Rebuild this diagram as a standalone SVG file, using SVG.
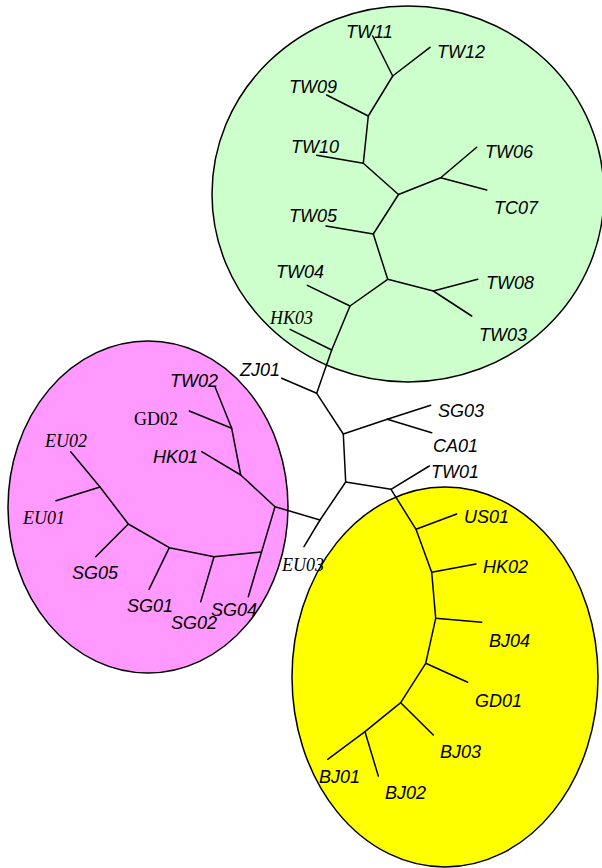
<svg xmlns="http://www.w3.org/2000/svg" width="602" height="868" viewBox="0 0 602 868">
<style>
.cl{stroke:#000;stroke-width:1.5}
.e{fill:none;stroke:#000;stroke-width:1.5;stroke-linecap:round;stroke-linejoin:round}
.s{font-family:"Liberation Sans",Arial,sans-serif;font-style:italic;font-size:18px;fill:#000}
.r{font-family:"Liberation Serif","Times New Roman",serif;font-style:italic;font-size:18px;fill:#000}
.ru{font-family:"Liberation Serif","Times New Roman",serif;font-size:18px;fill:#000}
</style>
<rect width="602" height="868" fill="#fff"/>
<g id="clusters">
<ellipse id="cluster-green" class="cl" cx="408" cy="194" rx="196" ry="188" fill="#CCFFCC"/>
<ellipse id="cluster-pink" class="cl" cx="148" cy="507" rx="140" ry="166" fill="#FF99FF"/>
<ellipse id="cluster-yellow" class="cl" cx="445" cy="677" rx="153" ry="190" fill="#FFFF00"/>
</g>
<g id="connectors">
<path class="e" d="M372.7,36 L392.7,76 L430,47.3"/>
<path class="e" d="M392.7,76 L368.3,116 L326.7,95"/>
<path class="e" d="M368.3,116 L363.3,163.3 L316.7,155.3"/>
<path class="e" d="M363.3,163.3 L398.5,194.5 L440.7,177.7 L476.7,147.3"/>
<path class="e" d="M440.7,177.7 L486.7,190"/>
<path class="e" d="M398.5,194.5 L373.3,234 L326,226"/>
<path class="e" d="M373.3,234 L387.7,279.3 L433.3,291 L477.7,279.3"/>
<path class="e" d="M433.3,291 L471.7,316"/>
<path class="e" d="M387.7,279.3 L350,306 L307.3,285.3"/>
<path class="e" d="M350,306 L331.7,350 L290,329.3"/>
<path class="e" d="M331.7,350 L316.7,393.3 L281.7,378.3"/>
<path class="e" d="M316.7,393.3 L343.3,434 L387.3,419.3 L430.7,405.3"/>
<path class="e" d="M387.3,419.3 L431.7,432.7"/>
<path class="e" d="M343.3,434 L345.7,482 L391,489.3 L429.3,466"/>
<path class="e" d="M391,489.3 L416,529.3 L456.7,514"/>
<path class="e" d="M416,529.3 L431.7,572.3 L476,564"/>
<path class="e" d="M431.7,572.3 L435.7,618.3 L481.7,622.3"/>
<path class="e" d="M435.7,618.3 L425.7,663.3 L467.7,682.3"/>
<path class="e" d="M425.7,663.3 L400.7,702.7 L433.3,735"/>
<path class="e" d="M400.7,702.7 L365,731.7 L327.7,759.3"/>
<path class="e" d="M365,731.7 L378.3,776"/>
<path class="e" d="M345.7,482 L320,520 L304,546.7"/>
<path class="e" d="M320,520 L275,506.7 L240.7,475 L201.7,451.7"/>
<path class="e" d="M240.7,475 L231.7,428.3 L215,386.7"/>
<path class="e" d="M231.7,428.3 L189.3,411"/>
<path class="e" d="M275,506.7 L248.3,596.7"/>
<path class="e" d="M261.3,552 L214,556.7 L200.7,601.7"/>
<path class="e" d="M214,556.7 L169.3,547.7 L149,589.3"/>
<path class="e" d="M169.3,547.7 L128.3,524 L95.7,556.7"/>
<path class="e" d="M128.3,524 L100,487 L70.7,451.7"/>
<path class="e" d="M100,487 L56,500.7"/>
</g>
<g id="nodes">
<g id="TW11"><text class="s" x="346" y="38">TW11</text></g>
<g id="TW12"><text class="s" x="437" y="58">TW12</text></g>
<g id="TW09"><text class="s" x="289" y="93">TW09</text></g>
<g id="TW10"><text class="s" x="291" y="153">TW10</text></g>
<g id="TW06"><text class="s" x="485" y="158">TW06</text></g>
<g id="TC07"><text class="s" x="494" y="214">TC07</text></g>
<g id="TW05"><text class="s" x="289" y="222">TW05</text></g>
<g id="TW04"><text class="s" x="276" y="278">TW04</text></g>
<g id="TW08"><text class="s" x="486" y="289">TW08</text></g>
<g id="TW03"><text class="s" x="479" y="341">TW03</text></g>
<g id="HK03"><text class="r" x="270" y="324">HK03</text></g>
<g id="ZJ01"><text class="s" x="240" y="376">ZJ01</text></g>
<g id="TW02"><text class="s" x="170" y="387">TW02</text></g>
<g id="GD02"><text class="ru" x="134" y="425">GD02</text></g>
<g id="EU02"><text class="r" x="45" y="447">EU02</text></g>
<g id="HK01"><text class="s" x="153" y="463">HK01</text></g>
<g id="EU01"><text class="r" x="23" y="524">EU01</text></g>
<g id="SG05"><text class="s" x="72" y="579">SG05</text></g>
<g id="SG01"><text class="s" x="127" y="612">SG01</text></g>
<g id="SG02"><text class="s" x="171" y="629">SG02</text></g>
<g id="SG04"><text class="s" x="211" y="616">SG04</text></g>
<g id="EU03"><text class="r" x="282" y="571">EU03</text></g>
<g id="SG03"><text class="s" x="438" y="417">SG03</text></g>
<g id="CA01"><text class="s" x="433" y="452">CA01</text></g>
<g id="TW01"><text class="s" x="431" y="478">TW01</text></g>
<g id="US01"><text class="s" x="464" y="523">US01</text></g>
<g id="HK02"><text class="s" x="483" y="573">HK02</text></g>
<g id="BJ04"><text class="s" x="489" y="647">BJ04</text></g>
<g id="GD01"><text class="s" x="475" y="707">GD01</text></g>
<g id="BJ03"><text class="s" x="440" y="758">BJ03</text></g>
<g id="BJ01"><text class="s" x="319" y="783">BJ01</text></g>
<g id="BJ02"><text class="s" x="385" y="799">BJ02</text></g>
</g>
</svg>
